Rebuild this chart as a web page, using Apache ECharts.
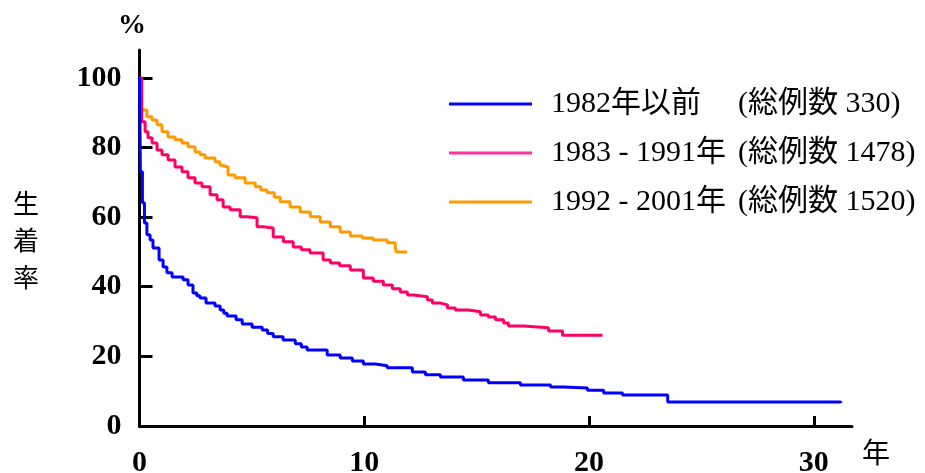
<!DOCTYPE html>
<html>
<head>
<meta charset="utf-8">
<script src="https://cdn.jsdelivr.net/npm/echarts@6/dist/echarts.min.js"></script>
<style>html,body{margin:0;padding:0;background:#fff;}#c{width:925px;height:473px;}</style>
</head>
<body>
<div id="c"></div>
<script>
// Series names / legend labels
const seriesNames = ['1982年以前', '1983 - 1991年', '1992 - 2001年'];
const seriesCounts = ['330', '1478', '1520'];
const xTicks = [0, 10, 20, 30];
const yTicks = [0, 20, 40, 60, 80, 100];

// Kaplan-Meier survival (years, %)
const s1982 = [[0,100],[0.04,73.0],[0.13,64.1],[0.22,58.3],[0.33,54.9],[0.47,53.4],[0.6,51.1],[0.87,47.7],[1.05,45.7],[1.22,44.0],[1.45,42.8],[1.94,42.0],[2.16,40.5],[2.38,38.2],[2.55,37.4],[2.69,36.8],[2.96,35.3],[3.36,34.5],[3.59,33.3],[3.75,32.4],[3.9,31.6],[4.3,30.5],[4.57,29.3],[5.01,28.4],[5.46,27.6],[5.7,26.6],[5.95,25.6],[6.39,24.7],[6.93,23.6],[7.2,22.7],[7.46,21.8],[8.35,20.4],[8.93,19.5],[9.47,18.7],[9.96,17.8],[10.5,17.3],[11.02,16.7],[12.14,15.5],[12.72,14.7],[13.39,14.1],[14.41,13.2],[15.52,12.4],[16.95,11.8],[18.29,11.2],[18.87,10.9],[19.93,10.3],[20.65,9.5],[21.49,8.9],[23.5,6.9],[31.2,6.6]];
const s1983 = [[0,100],[0.1,87.4],[0.25,84.5],[0.38,82.8],[0.56,81.3],[0.78,79.3],[1.0,77.9],[1.27,76.4],[1.58,74.4],[1.89,73.0],[2.16,71.3],[2.47,69.8],[2.78,68.7],[3.14,66.4],[3.45,65.0],[3.72,62.9],[4.03,62.1],[4.48,60.1],[4.79,59.8],[5.23,57.2],[5.5,56.9],[5.95,54.3],[6.4,52.9],[6.84,51.4],[7.2,50.6],[7.59,49.7],[8.17,47.7],[8.49,46.8],[8.9,46.0],[9.38,44.8],[9.96,42.5],[10.4,41.6],[10.85,40.5],[11.25,39.4],[11.6,38.5],[11.92,37.6],[12.18,37.1],[12.81,36.2],[13.03,35.3],[13.39,34.8],[13.7,33.9],[14.05,33.3],[14.63,32.8],[15.17,31.9],[15.52,31.3],[15.84,30.5],[16.2,29.6],[16.42,28.7],[17.08,28.2],[18.2,27.3],[18.82,26.1],[20.6,26.1]];
const s1992 = [[0,100],[0.04,92.8],[0.11,90.8],[0.33,88.8],[0.56,87.9],[0.78,86.5],[1.0,84.5],[1.27,83.0],[1.58,82.2],[1.89,81.3],[2.16,80.2],[2.47,78.7],[2.7,77.9],[2.92,77.0],[3.36,75.9],[3.58,74.9],[3.67,74.4],[3.94,72.1],[4.25,71.3],[4.7,69.8],[5.15,68.7],[5.4,67.8],[5.68,67.0],[6.0,65.7],[6.26,64.4],[6.7,62.9],[7.15,61.5],[7.6,60.1],[8.04,58.6],[8.49,57.2],[8.93,55.7],[9.38,54.6],[9.91,54.0],[10.4,53.4],[11.02,52.6],[11.38,51.4],[11.42,50.0],[11.91,50.0]];

const colors = ['#0000FF', '#FF0066', '#FF9900'];
const legendColors = ['#0000FF', '#FF3399', '#FF9900'];
const seriesData = [s1982, s1983, s1992];

const chart = echarts.init(document.getElementById('c'), null, {renderer: 'canvas'});
const serifFont = '"Liberation Serif", "Noto Sans CJK JP", serif';
const legendTops = [84, 133, 182];

const option = {
  animation: false,
  backgroundColor: '#fff',
  grid: {left: 139.5, right: 73, top: 50, bottom: 47, containLabel: false, outerBoundsMode: 'none'},
  xAxis: {
    type: 'value', min: 0, max: 31.7, interval: 10,
    axisLine: {show: true, lineStyle: {color: '#000', width: 3}},
    axisTick: {show: true, inside: true, length: 10, lineStyle: {color: '#000', width: 3}, customValues: xTicks},
    axisLabel: {show: true, margin: 22, color: '#000', fontSize: 30, fontWeight: 'bold', fontFamily: serifFont, customValues: xTicks},
    splitLine: {show: false}
  },
  yAxis: {
    type: 'value', min: 0, max: 108, interval: 20,
    axisLine: {show: true, lineStyle: {color: '#000', width: 3}},
    axisTick: {show: true, inside: true, length: 13, lineStyle: {color: '#000', width: 3}, customValues: yTicks},
    axisLabel: {show: true, margin: 18, color: '#000', fontSize: 30, fontWeight: 'bold', fontFamily: serifFont, customValues: yTicks},
    splitLine: {show: false}
  },
  legend: seriesNames.map((n, i) => ({
    data: [{name: n, itemStyle: {color: legendColors[i]}}],
    left: 444, top: legendTops[i],
    orient: 'vertical',
    icon: 'rect', itemWidth: 83, itemHeight: 3,
    selectedMode: false,
    formatter: function (name) { return '{a|' + name + '}{b|(総例数 ' + seriesCounts[i] + ')}'; },
    textStyle: {
      color: '#000', fontSize: 30, fontFamily: serifFont, lineHeight: 30,
      rich: {
        a: {width: 187, fontSize: 30, fontFamily: serifFont, color: '#000', padding: [0, 0, 0, 14]},
        b: {fontSize: 30, fontFamily: serifFont, color: '#000'}
      }
    }
  })),
  graphic: [
    {type: 'text', left: 118, top: 12, style: {text: '%', font: 'bold 28px "Liberation Serif"', fill: '#000'}},
    {type: 'text', left: 13, top: 185, style: {text: '生\n着\n率', font: '26px "Noto Sans CJK JP"', lineHeight: 37, fill: '#000'}},
    {type: 'text', left: 862, top: 438, style: {text: '年', font: '28px "Noto Sans CJK JP"', fill: '#000'}}
  ],
  series: seriesNames.map((n, i) => ({
    name: n, type: 'line', step: 'end', symbol: 'none',
    data: seriesData[i],
    lineStyle: {color: colors[i], width: 3},
    itemStyle: {color: colors[i]},
    z: 3 - i
  }))
};
chart.setOption(option);
</script>
</body>
</html>
